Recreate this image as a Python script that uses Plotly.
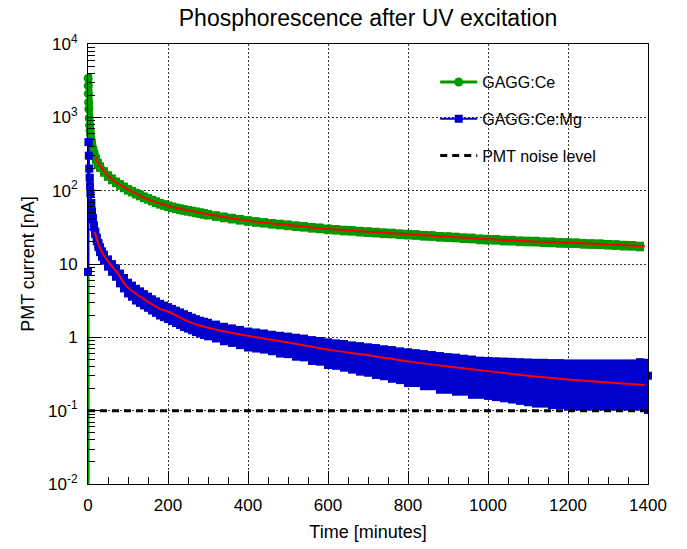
import plotly.graph_objects as go

# ---------------- data ----------------
# GAGG:Ce  (time in minutes, PMT current in nA); first point is off-scale (drop to ~0)
green_t = [0.3, 0.3, 0.6, 1, 1.5, 2, 3, 4, 5, 6, 8, 10, 13, 16, 20, 25, 30, 40, 50, 60, 70, 80, 90,
           100, 110, 120, 130, 140, 150, 160, 170, 180, 190, 200, 210, 220, 230, 240, 250, 260, 270,
           280, 290, 300, 320, 340, 360, 380, 400,
           420, 440, 460, 480, 500, 520, 540, 560, 580, 600, 620, 640, 660, 680, 700,
           720, 740, 760, 780, 800, 820, 840, 860, 880, 900, 920, 940, 960, 980, 1000,
           1020, 1040, 1060, 1080, 1100, 1120, 1140, 1160, 1180, 1200, 1220, 1240, 1260,
           1280, 1300, 1320, 1340, 1360, 1380]
green_y = [0.001, 3400, 2700, 2100, 1600, 1300, 980, 780, 660, 580, 480, 420, 355, 310, 270, 235, 212,
           182, 160, 144, 131, 121, 112,
           104, 98, 92, 87, 82, 78, 74, 70.5, 67, 64.5, 62, 60, 58, 56.5, 55, 53.7, 52.5, 51.2,
           50, 48.7, 47.5, 45.5, 43.6, 42, 40.5, 39,
           37.8, 36.9, 35.7, 34.9, 34, 33.1, 32.5, 31.5, 30.9, 30, 29.6, 28.9, 28.6, 27.9, 27.5,
           27.1, 26.5, 26.3, 25.7, 25.4, 25.1, 24.5, 24.3, 23.7, 23.5, 23.2, 22.7, 22.5, 21.9, 21.7,
           21.6, 21.1, 21.0, 20.6, 20.5, 20.4, 20.0, 19.9, 19.6, 19.5, 19.4, 19.0, 18.9,
           18.8, 18.5, 18.3, 18.0, 17.9, 17.5]

# GAGG:Ce:Mg
blue_t = [0, 1, 2, 3, 4, 5, 6, 8, 10, 12, 15, 18, 22, 26, 30, 35, 40, 50, 60, 70, 80, 90,
          100, 110, 120, 130, 140, 150, 160, 170, 180, 190, 200, 210, 220, 230, 240, 250, 260, 270,
          280, 290, 300, 320, 340, 360, 380, 400,
          420, 440, 460, 480, 500, 520, 540, 560, 580, 600, 620, 640, 660, 680, 700,
          720, 740, 760, 780, 800, 820, 840, 860, 880, 900, 920, 940, 960, 980, 1000,
          1020, 1040, 1060, 1080, 1100, 1120, 1140, 1160, 1180, 1200, 1220, 1240, 1260,
          1280, 1300, 1320, 1340, 1360, 1380, 1400]
blue_y = [7.8, 460, 300, 200, 150, 115, 92, 68, 52, 42, 33, 27, 22, 18.5, 16, 14, 12.5, 10.6, 9.1, 7.9, 6.6, 5.7,
          4.9, 4.45, 4.0, 3.7, 3.4, 3.15, 2.9, 2.7, 2.5, 2.37, 2.25, 2.12, 2.0, 1.89, 1.78, 1.69, 1.6, 1.52,
          1.45, 1.40, 1.35, 1.27, 1.18, 1.12, 1.06, 1.0,
          0.97, 0.94, 0.90, 0.86, 0.84, 0.80, 0.78, 0.73, 0.71, 0.67, 0.65, 0.63, 0.60, 0.58, 0.56,
          0.54, 0.52, 0.50, 0.48, 0.46, 0.45, 0.43, 0.42, 0.40, 0.39, 0.38, 0.37, 0.355, 0.345, 0.34,
          0.335, 0.33, 0.325, 0.32, 0.315, 0.31, 0.31, 0.305, 0.305, 0.30, 0.30, 0.30, 0.30,
          0.30, 0.30, 0.30, 0.30, 0.30, 0.31, 0.30]
blue_err = [0.5, 40, 30, 22, 18, 14, 12, 9, 7, 6, 5, 4.5, 4, 3.5, 3.2, 2.9, 2.7, 2.5, 2.2, 2.0, 1.8, 1.6,
            1.4, 1.3, 1.2, 1.1, 1.0, 0.92, 0.85, 0.8, 0.75, 0.71, 0.68, 0.65, 0.62, 0.59, 0.56, 0.53, 0.5, 0.48,
            0.46, 0.45, 0.44, 0.42, 0.40, 0.38, 0.37, 0.36,
            0.35, 0.34, 0.33, 0.33, 0.32, 0.32, 0.31, 0.31, 0.30, 0.30, 0.29, 0.29, 0.28, 0.28, 0.27,
            0.27, 0.26, 0.26, 0.25, 0.25, 0.24, 0.24, 0.23, 0.23, 0.22, 0.22, 0.21, 0.21, 0.20, 0.20,
            0.20, 0.20, 0.20, 0.20, 0.20, 0.20, 0.20, 0.20, 0.20, 0.20, 0.20, 0.20, 0.20,
            0.20, 0.20, 0.20, 0.20, 0.20, 0.21, 0.21]

# fitted curves (red lines)
green_fit_t = [18, 25, 35, 50, 72, 100, 150, 200, 280, 400, 500, 600, 700, 800, 900, 1000, 1100, 1200, 1300, 1392]
green_fit_y = [290, 240, 200, 160, 128, 104, 76, 62, 50, 39, 34, 30, 27.5, 25.4, 23.5, 21.7, 20.5, 19.5, 18.5, 17.5]
blue_fit_t = [17, 25, 35, 54, 75, 96, 130, 180, 200, 262, 346, 421, 500, 600, 700, 800, 900, 1000, 1100, 1200, 1300, 1392]
blue_fit_y = [27.5, 19.5, 14.5, 10.2, 7.4, 5.0, 3.6, 2.45, 2.25, 1.55, 1.19, 1.0, 0.85, 0.68, 0.57, 0.47, 0.40,
              0.346, 0.30, 0.267, 0.243, 0.223]

# PMT noise level
noise_t = [0, 1400]
noise_y = [0.1, 0.1]

y_tickvals = [0.01, 0.1, 1, 10, 100, 1000, 10000]
y_ticktext = ['10<sup>-2</sup>', '10<sup>-1</sup>', '1', '10', '10<sup>2</sup>', '10<sup>3</sup>', '10<sup>4</sup>']
x_tickvals = [0, 200, 400, 600, 800, 1000, 1200, 1400]

GREEN = '#009a00'
BLUE = '#0000cc'
FONT = 'Liberation Sans, Arial, sans-serif'

fig = go.Figure()

fig.add_trace(go.Scatter(
    x=green_t, y=green_y, mode='lines+markers', name='GAGG:Ce',
    line=dict(color=GREEN, width=3),
    marker=dict(symbol='circle', size=9, color=GREEN),
    error_y=dict(type='percent', value=15, color=GREEN, thickness=8, width=0),
    cliponaxis=False,
    legendgroup='g', legendrank=1,
))
fig.add_trace(go.Scatter(
    x=blue_t, y=blue_y, mode='lines+markers', name='GAGG:Ce:Mg',
    line=dict(color=BLUE, width=2),
    marker=dict(symbol='square', size=8, color=BLUE),
    error_y=dict(type='data', array=blue_err, color=BLUE, thickness=8, width=0),
    cliponaxis=False,
    legendgroup='b', legendrank=2,
))
fig.add_trace(go.Scatter(
    x=green_fit_t, y=green_fit_y, mode='lines', line=dict(color='#ff0000', width=2, shape='spline'),
    showlegend=False, hoverinfo='skip'))
fig.add_trace(go.Scatter(
    x=blue_fit_t, y=blue_fit_y, mode='lines', line=dict(color='#ff0000', width=2, shape='spline'),
    showlegend=False, hoverinfo='skip'))
fig.add_trace(go.Scatter(
    x=noise_t, y=noise_y, mode='lines', name='PMT noise level',
    line=dict(color='black', width=3, dash='7px,5px'),
    legendgroup='n', legendrank=3,
))

fig.update_layout(
    width=687, height=549,
    margin=dict(l=88, r=39, t=44, b=65),
    paper_bgcolor='white', plot_bgcolor='white',
    font=dict(family=FONT, size=17, color='black'),
    title=dict(text='Phosphorescence after UV excitation', x=0.5, xref='paper', xanchor='center',
               y=1 - 18 / 549, yref='container', yanchor='middle',
               font=dict(family=FONT, size=23, color='black')),
    showlegend=True,
    legend=dict(x=0.62, y=0.952, xanchor='left', yanchor='top', bgcolor='rgba(255,255,255,0)',
                borderwidth=0, font=dict(family=FONT, size=16, color='black'),
                traceorder='grouped', tracegroupgap=13, itemwidth=37),
)

fig.update_xaxes(
    range=[0, 1400], tickmode='array', tickvals=x_tickvals,
    ticks='inside', ticklen=13, tickwidth=1, tickcolor='black',
    showline=True, linecolor='black', linewidth=1, mirror=True,
    showgrid=True, gridcolor='#333333', gridwidth=1, griddash='2px,2px',
    zeroline=False, ticklabelstandoff=6,
    minor=dict(ticks='inside', ticklen=7, dtick=50, tickcolor='black', showgrid=False),
    title=dict(text='Time [minutes]', font=dict(family=FONT, size=18), standoff=10),
)
fig.update_yaxes(
    type='log', range=[-2, 4], tickmode='array', tickvals=y_tickvals, ticktext=y_ticktext,
    ticks='inside', ticklen=13, tickwidth=1, tickcolor='black',
    showline=True, linecolor='black', linewidth=1, mirror=True,
    showgrid=True, gridcolor='#333333', gridwidth=1, griddash='2px,2px',
    zeroline=False, ticklabelstandoff=6,
    minor=dict(ticks='inside', ticklen=7, dtick='D1', tickcolor='black', showgrid=False),
    title=dict(text='PMT current [nA]', font=dict(family=FONT, size=18), standoff=8),
)

fig.write_html('out.html')
